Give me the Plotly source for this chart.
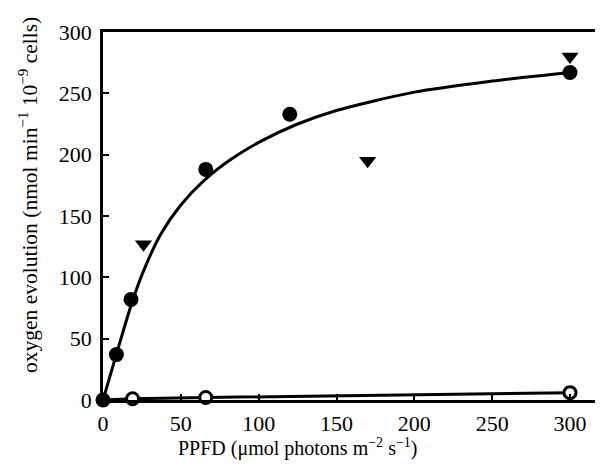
import plotly.graph_objects as go

# Filled circles (series 1)
filled_x = [0, 8.6, 18, 66, 120, 300]
filled_y = [0, 37, 82, 188, 233, 267]

# Inverted triangles (series 2)
tri_x = [26, 170, 300]
tri_y = [127, 195, 280]

# Open circles (series 3)
open_x = [0, 19, 66, 300]
open_y = [0, 1, 2, 6]

# Fitted curve
curve_x = [0, 9, 18, 25, 37, 50, 65, 82, 100, 125, 150, 200, 250, 300]
curve_y = [0, 39, 77, 102, 135, 159, 179, 196, 210, 225, 236, 251, 260, 267]

x_ticks = [0, 50, 100, 150, 200, 250, 300]
y_ticks = [0, 50, 100, 150, 200, 250, 300]

FONT = "Liberation Serif, Times New Roman, serif"

fig = go.Figure()
fig.add_trace(go.Scatter(x=curve_x, y=curve_y, mode="lines",
                         line=dict(color="black", width=3, shape="spline", smoothing=0.8),
                         hoverinfo="skip", showlegend=False))
fig.add_trace(go.Scatter(x=open_x, y=open_y, mode="lines",
                         line=dict(color="black", width=3),
                         hoverinfo="skip", showlegend=False))
fig.add_trace(go.Scatter(x=tri_x, y=tri_y, mode="markers",
                         marker=dict(symbol="triangle-down", size=15, color="black"),
                         showlegend=False, cliponaxis=False))
fig.add_trace(go.Scatter(x=open_x[1:], y=open_y[1:], mode="markers",
                         marker=dict(symbol="circle", size=12, color="white",
                                     line=dict(color="black", width=3)),
                         showlegend=False, cliponaxis=False))
fig.add_trace(go.Scatter(x=filled_x, y=filled_y, mode="markers",
                         marker=dict(symbol="circle", size=15, color="black"),
                         showlegend=False, cliponaxis=False))

# page body adds an 8px offset, so margins are compensated
fig.update_layout(
    width=603, height=474,
    margin=dict(l=95, r=8, t=24, b=82),
    paper_bgcolor="white", plot_bgcolor="white",
    font=dict(family=FONT, size=20, color="black"),
    xaxis=dict(range=[0, 321.2], tickvals=x_ticks, ticks="inside", ticklen=6, tickwidth=2,
               tickcolor="black", showline=True, linewidth=2.5, linecolor="black",
               mirror=True, showgrid=False, zeroline=False, automargin=False,
               tickfont=dict(family=FONT, size=22, color="black"),
               ticklabelstandoff=2),
    yaxis=dict(range=[0, 300], tickvals=y_ticks, ticks="inside", ticklen=6, tickwidth=2,
               tickcolor="black", showline=True, linewidth=2.5, linecolor="black",
               mirror=False, showgrid=False, zeroline=False, automargin=False,
               tickfont=dict(family=FONT, size=22, color="black"),
               ticklabelstandoff=4),
    annotations=[
        dict(text="PPFD (\u03bcmol photons m<sup>\u22122</sup> s<sup>\u22121</sup>)",
             xref="paper", yref="paper", x=0.389, y=-0.128,
             xanchor="center", yanchor="middle", showarrow=False,
             font=dict(family=FONT, size=20, color="black")),
        dict(text="oxygen evolution (nmol min<sup>\u22121</sup> 10<sup>\u22129</sup> cells)",
             xref="paper", yref="paper", x=-0.15, y=0.557, textangle=-90,
             xanchor="center", yanchor="middle", showarrow=False,
             font=dict(family=FONT, size=21.5, color="black")),
    ],
)

fig.write_html("out.html")
